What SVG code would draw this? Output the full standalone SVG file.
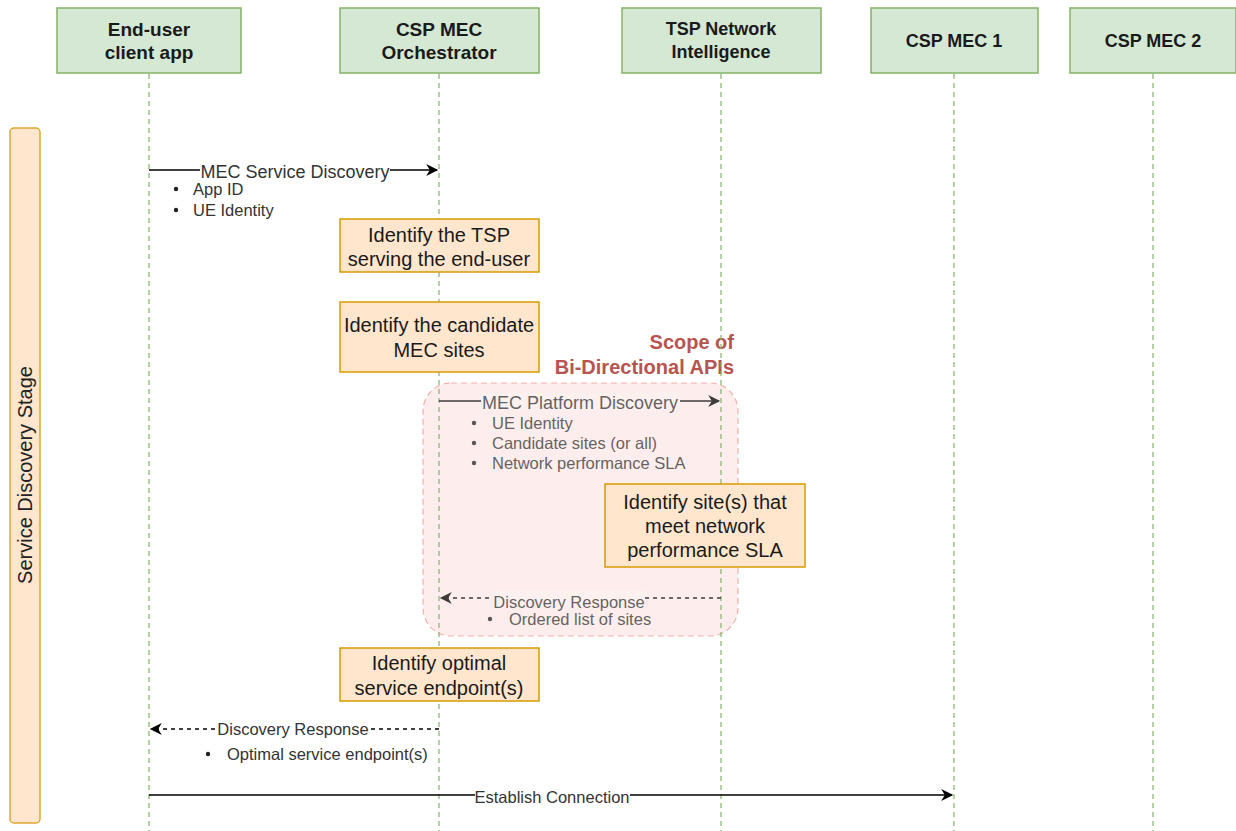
<svg xmlns="http://www.w3.org/2000/svg" width="1236" height="831" viewBox="0 0 1236 831">
<style>
.actor{fill:#d5e8d4;stroke:#82b366;stroke-width:1.5}
.atxt{font-family:"Liberation Sans",Arial,sans-serif;font-size:19px;font-weight:bold;fill:#1a1a1a;text-anchor:middle}
.atxt2{font-family:"Liberation Sans",Arial,sans-serif;font-size:18px;font-weight:bold;fill:#1a1a1a;text-anchor:middle}
.life{stroke:#82b366;stroke-width:1.2;stroke-dasharray:5 4;fill:none}
.proc{fill:#ffe6cc;stroke:#d79b00;stroke-width:1.5}
.ptxt{font-family:"Liberation Sans",Arial,sans-serif;font-size:20px;fill:#1a1a1a;text-anchor:middle}
.msg{stroke:#000;stroke-width:1.5;fill:none}
.dash{stroke-dasharray:4 4}
.mtxt{font-family:"Liberation Sans",Arial,sans-serif;font-size:18px;fill:#333;text-anchor:middle}
.mtxt2{font-family:"Liberation Sans",Arial,sans-serif;font-size:16.5px;fill:#333;text-anchor:middle}
.btxt{font-family:"Liberation Sans",Arial,sans-serif;font-size:16.5px;fill:#333}
.bul{fill:#222}
.lbg{fill:#fff}
</style>
<defs>
<marker id="ah" viewBox="0 0 10 10" refX="9" refY="5" markerWidth="13" markerHeight="12" markerUnits="userSpaceOnUse" orient="auto">
<path d="M0,0 L10,5 L0,10 L3,5 Z" fill="#000"/>
</marker>
</defs>
<rect width="1236" height="831" fill="#fff"/>

<g id="stage">
<rect x="10" y="128" width="30" height="695" rx="4" fill="#ffe6cc" stroke="#e0a830" stroke-width="1.5"/>
<text transform="translate(32,475) rotate(-90)" text-anchor="middle" font-family="Liberation Sans,Arial,sans-serif" font-size="20" fill="#222">Service Discovery Stage</text>
</g>

<g id="scope">
<rect x="423" y="383" width="315" height="253" rx="28" fill="#f8cecc" fill-opacity="0.35" stroke="#ea6b66" stroke-opacity="0.5" stroke-width="1.2" stroke-dasharray="6 4"/>
<text x="734" y="349" text-anchor="end" font-family="Liberation Sans,Arial,sans-serif" font-size="20" font-weight="bold" fill="#b85450">Scope of</text>
<text x="734" y="374" text-anchor="end" font-family="Liberation Sans,Arial,sans-serif" font-size="20" font-weight="bold" fill="#b85450">Bi-Directional APIs</text>
</g>

<g id="lifelines">
<line class="life" x1="149" y1="74" x2="149" y2="831"/>
<line class="life" x1="439" y1="74" x2="439" y2="831"/>
<line class="life" x1="721" y1="74" x2="721" y2="831"/>
<line class="life" x1="954" y1="74" x2="954" y2="831"/>
<line class="life" x1="1153" y1="74" x2="1153" y2="831"/>
</g>

<g id="end-user">
<rect class="actor" x="57" y="8" width="184" height="65"/>
<text class="atxt" x="149" y="36">End-user</text>
<text class="atxt" x="149" y="59">client app</text>
</g>
<g id="orchestrator">
<rect class="actor" x="340" y="8" width="199" height="65"/>
<text class="atxt" x="439" y="36">CSP MEC</text>
<text class="atxt" x="439" y="59">Orchestrator</text>
</g>
<g id="tsp">
<rect class="actor" x="622" y="8" width="199" height="65"/>
<text class="atxt2" x="721" y="35">TSP Network</text>
<text class="atxt2" x="721" y="58">Intelligence</text>
</g>
<g id="mec1">
<rect class="actor" x="871" y="8" width="167" height="65"/>
<text class="atxt2" x="954" y="47">CSP MEC 1</text>
</g>
<g id="mec2">
<rect class="actor" x="1070" y="8" width="166" height="65"/>
<text class="atxt2" x="1153" y="47">CSP MEC 2</text>
</g>

<g id="identify-tsp">
<rect class="proc" x="340" y="219" width="199" height="53"/>
<text class="ptxt" x="439" y="242">Identify the TSP</text>
<text class="ptxt" x="439" y="266">serving the end-user</text>
</g>
<g id="identify-candidates">
<rect class="proc" x="340" y="302" width="199" height="70"/>
<text class="ptxt" x="439" y="332">Identify the candidate</text>
<text class="ptxt" x="439" y="357">MEC sites</text>
</g>
<g id="identify-sites">
<rect class="proc" x="605" y="484" width="200" height="83"/>
<text class="ptxt" x="705" y="509">Identify site(s) that</text>
<text class="ptxt" x="705" y="533">meet network</text>
<text class="ptxt" x="705" y="557">performance SLA</text>
</g>
<g id="identify-optimal">
<rect class="proc" x="340" y="648" width="199" height="53"/>
<text class="ptxt" x="439" y="670">Identify optimal</text>
<text class="ptxt" x="439" y="695">service endpoint(s)</text>
</g>

<g id="connectors">
<line class="msg" x1="149" y1="170" x2="437" y2="170" marker-end="url(#ah)"/>
<rect class="lbg" x="200" y="162" width="190" height="18"/>
<text class="mtxt" x="295" y="178">MEC Service Discovery</text>
<circle class="bul" cx="176" cy="189" r="2.2"/>
<text class="btxt" x="193" y="195">App ID</text>
<circle class="bul" cx="176" cy="210" r="2.2"/>
<text class="btxt" x="193" y="216">UE Identity</text>

<g opacity="0.75">
<line class="msg" x1="439" y1="401" x2="719" y2="401" marker-end="url(#ah)"/>
<rect fill="#fdf2f2" x="481" y="393" width="199" height="17"/>
<text class="mtxt" x="580" y="409">MEC Platform Discovery</text>
<circle class="bul" cx="474" cy="423" r="2.2"/>
<text class="btxt" x="492" y="429">UE Identity</text>
<circle class="bul" cx="474" cy="443" r="2.2"/>
<text class="btxt" x="492" y="449">Candidate sites (or all)</text>
<circle class="bul" cx="474" cy="463" r="2.2"/>
<text class="btxt" x="492" y="469">Network performance SLA</text>

<line class="msg dash" x1="721" y1="598" x2="441" y2="598" marker-end="url(#ah)"/>
<rect fill="#fdf2f2" x="493" y="590" width="152" height="17"/>
<text class="mtxt2" x="569" y="608">Discovery Response</text>
<circle class="bul" cx="490" cy="619" r="2.2"/>
<text class="btxt" x="509" y="625">Ordered list of sites</text>
</g>

<line class="msg dash" x1="439" y1="729" x2="151" y2="729" marker-end="url(#ah)"/>
<rect class="lbg" x="217" y="721" width="152" height="17"/>
<text class="mtxt2" x="293" y="735">Discovery Response</text>
<circle class="bul" cx="208" cy="754" r="2.2"/>
<text class="btxt" x="227" y="760">Optimal service endpoint(s)</text>

<line class="msg" x1="149" y1="795" x2="952" y2="795" marker-end="url(#ah)" stroke="#333"/>
<rect class="lbg" x="475" y="788" width="155" height="16"/>
<text class="mtxt2" x="552" y="803">Establish Connection</text>
</g>
</svg>
